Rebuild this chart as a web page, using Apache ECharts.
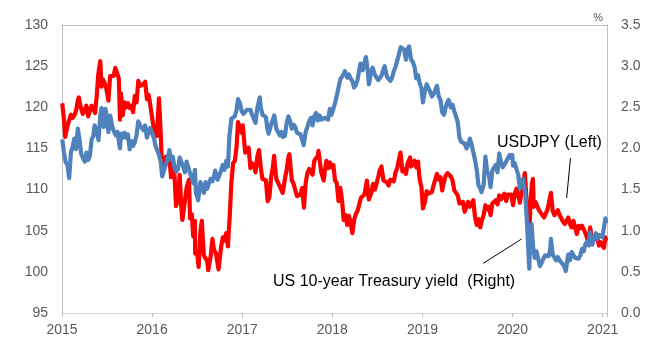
<!DOCTYPE html>
<html>
<head>
<meta charset="utf-8">
<script src="https://cdn.jsdelivr.net/npm/echarts@6/dist/echarts.min.js"></script>
<style>
html,body{margin:0;padding:0;background:#fff;}
#chart{width:669px;height:358px;}
</style>
</head>
<body>
<div id="chart"></div>
<script>
// ---- Data ----
const yearTicks = [2015, 2016, 2017, 2018, 2019, 2020, 2021];
const leftTicks = [95, 100, 105, 110, 115, 120, 125, 130];
const rightTicks = [0.0, 0.5, 1.0, 1.5, 2.0, 2.5, 3.0, 3.5];

// USDJPY (left axis)
const usdjpy = [
['2015-01-02',120.5],['2015-01-09',118.5],['2015-01-14',116.4],['2015-01-23',117.7],['2015-01-30',117.5],['2015-02-06',119.1],['2015-02-13',118.7],['2015-02-20',119.0],['2015-02-27',119.6],['2015-03-06',120.8],['2015-03-10',121.2],['2015-03-18',120.0],['2015-03-26',119.2],['2015-04-03',119.0],['2015-04-10',120.2],['2015-04-17',118.9],['2015-04-24',119.0],['2015-05-01',120.2],['2015-05-08',119.8],['2015-05-15',119.3],['2015-05-22',121.5],['2015-05-28',124.0],['2015-06-05',125.6],['2015-06-10',122.5],['2015-06-15',123.4],['2015-06-22',123.0],['2015-06-29',122.4],['2015-07-08',120.8],['2015-07-15',123.8],['2015-07-22',124.0],['2015-07-29',123.8],['2015-08-05',124.8],['2015-08-12',124.8],['2015-08-19',123.5],['2015-08-24',118.5],['2015-08-28',121.7],['2015-09-04',119.0],['2015-09-11',120.6],['2015-09-18',120.0],['2015-09-25',120.5],['2015-10-02',119.9],['2015-10-09',120.2],['2015-10-16',119.4],['2015-10-23',121.4],['2015-10-30',120.6],['2015-11-06',123.2],['2015-11-13',122.6],['2015-11-20',122.8],['2015-11-27',122.8],['2015-12-04',123.1],['2015-12-11',121.0],['2015-12-18',121.5],['2015-12-24',120.4],['2015-12-31',120.2],
['2016-01-08',117.3],['2016-01-15',117.0],['2016-01-20',116.5],['2016-01-29',121.1],['2016-02-05',116.8],['2016-02-11',112.0],['2016-02-19',112.6],['2016-02-26',114.0],['2016-03-04',114.0],['2016-03-11',113.8],['2016-03-18',111.5],['2016-03-25',113.0],['2016-04-01',111.7],['2016-04-07',108.0],['2016-04-15',108.8],['2016-04-22',111.8],['2016-04-28',108.1],['2016-05-03',106.3],['2016-05-13',108.6],['2016-05-20',110.2],['2016-05-30',111.2],['2016-06-03',106.5],['2016-06-10',107.0],['2016-06-16',104.3],['2016-06-23',106.2],['2016-06-24',102.2],['2016-07-01',102.5],['2016-07-08',100.6],['2016-07-15',104.8],['2016-07-21',106.2],['2016-07-29',102.0],['2016-08-05',101.8],['2016-08-12',101.3],['2016-08-16',100.2],['2016-08-26',101.9],['2016-09-02',104.0],['2016-09-09',102.6],['2016-09-16',102.3],['2016-09-23',101.0],['2016-09-27',100.3],['2016-10-07',103.0],['2016-10-14',104.2],['2016-10-21',103.8],['2016-10-28',104.7],['2016-11-04',103.1],['2016-11-08',105.2],['2016-11-11',106.6],['2016-11-18',110.9],['2016-11-25',113.2],['2016-12-02',113.5],['2016-12-09',115.2],['2016-12-15',118.2],['2016-12-23',117.2],['2016-12-30',116.9],
['2017-01-03',117.8],['2017-01-06',116.9],['2017-01-13',114.5],['2017-01-20',114.6],['2017-01-27',115.1],['2017-02-03',112.6],['2017-02-10',113.2],['2017-02-17',112.9],['2017-02-24',112.1],['2017-03-03',114.0],['2017-03-10',114.8],['2017-03-17',112.7],['2017-03-24',111.3],['2017-03-31',111.4],['2017-04-07',111.1],['2017-04-14',108.6],['2017-04-17',108.5],['2017-04-21',109.1],['2017-04-28',111.5],['2017-05-05',112.7],['2017-05-10',114.1],['2017-05-19',111.3],['2017-05-26',111.3],['2017-06-02',110.4],['2017-06-09',110.3],['2017-06-14',109.6],['2017-06-23',111.3],['2017-06-30',112.4],['2017-07-07',113.9],['2017-07-11',114.3],['2017-07-21',111.1],['2017-07-28',110.7],['2017-08-04',110.7],['2017-08-11',109.2],['2017-08-18',109.2],['2017-08-25',109.4],['2017-09-01',110.2],['2017-09-08',107.8],['2017-09-15',110.8],['2017-09-22',112.0],['2017-09-29',112.5],['2017-10-06',112.6],['2017-10-13',111.8],['2017-10-20',113.5],['2017-10-27',113.7],['2017-11-03',114.1],['2017-11-06',114.7],['2017-11-17',112.1],['2017-11-27',111.1],['2017-12-01',112.2],['2017-12-08',113.5],['2017-12-15',112.6],['2017-12-22',113.3],['2017-12-29',112.7],
['2018-01-05',113.0],['2018-01-08',113.2],['2018-01-12',111.1],['2018-01-19',110.8],['2018-01-26',108.6],['2018-02-02',110.2],['2018-02-09',108.8],['2018-02-16',106.3],['2018-02-23',106.9],['2018-03-02',105.7],['2018-03-09',106.8],['2018-03-16',106.0],['2018-03-23',104.7],['2018-03-30',106.3],['2018-04-06',107.0],['2018-04-13',107.4],['2018-04-20',107.6],['2018-04-27',109.0],['2018-05-04',109.1],['2018-05-11',109.4],['2018-05-21',111.1],['2018-05-29',108.8],['2018-06-08',109.6],['2018-06-15',110.7],['2018-06-22',110.0],['2018-06-29',110.7],['2018-07-06',110.5],['2018-07-13',112.4],['2018-07-19',112.8],['2018-07-27',111.1],['2018-08-03',111.2],['2018-08-10',110.9],['2018-08-17',110.5],['2018-08-24',111.2],['2018-08-31',111.0],['2018-09-07',111.0],['2018-09-14',112.1],['2018-09-21',112.6],['2018-09-28',113.7],['2018-10-04',114.5],['2018-10-12',112.2],['2018-10-19',112.5],['2018-10-26',111.9],['2018-11-02',113.2],['2018-11-12',113.9],['2018-11-16',112.8],['2018-11-23',112.9],['2018-11-30',113.5],['2018-12-07',112.7],['2018-12-14',113.4],['2018-12-21',111.2],['2018-12-28',110.3],
['2019-01-03',107.7],['2019-01-11',108.5],['2019-01-18',109.8],['2019-01-25',109.5],['2019-02-01',109.5],['2019-02-08',109.7],['2019-02-15',110.5],['2019-02-22',110.7],['2019-03-01',111.9],['2019-03-08',111.2],['2019-03-15',111.5],['2019-03-22',109.9],['2019-03-29',110.9],['2019-04-05',111.7],['2019-04-12',112.0],['2019-04-19',111.9],['2019-04-26',111.6],['2019-05-03',111.1],['2019-05-10',109.9],['2019-05-17',110.1],['2019-05-24',109.3],['2019-05-31',108.3],['2019-06-07',108.2],['2019-06-14',108.5],['2019-06-21',107.3],['2019-06-28',107.9],['2019-07-05',108.5],['2019-07-12',107.9],['2019-07-19',107.7],['2019-07-26',108.7],['2019-08-02',106.6],['2019-08-09',105.7],['2019-08-16',106.4],['2019-08-23',105.4],['2019-08-26',105.3],['2019-08-30',106.3],['2019-09-06',106.9],['2019-09-13',108.1],['2019-09-20',107.6],['2019-09-27',107.9],['2019-10-04',106.9],['2019-10-11',108.3],['2019-10-18',108.4],['2019-10-25',108.7],['2019-11-01',108.2],['2019-11-08',109.3],['2019-11-15',108.8],['2019-11-22',108.7],['2019-11-29',109.5],['2019-12-06',108.6],['2019-12-13',109.4],['2019-12-20',109.4],['2019-12-27',109.4],['2019-12-31',108.6],
['2020-01-03',108.1],['2020-01-10',109.5],['2020-01-17',110.1],['2020-01-24',109.3],['2020-01-31',108.4],['2020-02-07',109.8],['2020-02-14',109.8],['2020-02-20',112.0],['2020-02-28',108.1],['2020-03-06',105.4],['2020-03-10',105.0],['2020-03-13',108.0],['2020-03-20',110.8],['2020-03-24',111.3],['2020-03-27',107.9],['2020-04-03',108.5],['2020-04-10',108.5],['2020-04-17',107.5],['2020-04-24',107.5],['2020-05-01',106.9],['2020-05-08',106.6],['2020-05-15',107.1],['2020-05-22',107.6],['2020-05-29',107.8],['2020-06-05',109.6],['2020-06-12',107.4],['2020-06-19',106.9],['2020-06-26',107.2],['2020-07-03',107.5],['2020-07-10',106.9],['2020-07-17',107.0],['2020-07-24',106.1],['2020-07-31',105.8],['2020-08-07',105.9],['2020-08-14',106.6],['2020-08-21',105.8],['2020-08-28',105.4],['2020-09-04',106.2],['2020-09-11',106.1],['2020-09-18',104.6],['2020-09-25',105.6],['2020-10-02',105.3],['2020-10-09',105.6],['2020-10-16',105.4],['2020-10-23',104.7],['2020-10-30',104.6],['2020-11-06',103.4],['2020-11-11',105.4],['2020-11-20',103.8],['2020-11-27',104.1],['2020-12-04',104.2],['2020-12-11',104.0],['2020-12-17',103.2],['2020-12-24',103.6],['2020-12-31',103.2],['2021-01-06',102.9],['2021-01-12',104.2],['2021-01-15',103.8]
];

// US 10-year Treasury yield, % (right axis)
const ust10y = [
['2015-01-02',2.11],['2015-01-09',1.95],['2015-01-16',1.83],['2015-01-23',1.80],['2015-01-30',1.64],['2015-02-06',1.95],['2015-02-13',2.02],['2015-02-20',2.12],['2015-02-27',1.99],['2015-03-06',2.24],['2015-03-13',2.11],['2015-03-20',1.93],['2015-03-27',1.95],['2015-04-03',1.84],['2015-04-10',1.95],['2015-04-17',1.86],['2015-04-24',1.91],['2015-05-01',2.11],['2015-05-08',2.15],['2015-05-13',2.28],['2015-05-22',2.21],['2015-05-29',2.10],['2015-06-05',2.40],['2015-06-10',2.49],['2015-06-19',2.26],['2015-06-26',2.48],['2015-07-02',2.38],['2015-07-08',2.20],['2015-07-15',2.40],['2015-07-24',2.26],['2015-07-31',2.20],['2015-08-07',2.16],['2015-08-14',2.20],['2015-08-21',2.05],['2015-08-24',2.00],['2015-08-28',2.18],['2015-09-04',2.13],['2015-09-11',2.19],['2015-09-18',2.13],['2015-09-25',2.17],['2015-10-02',1.99],['2015-10-09',2.09],['2015-10-16',2.03],['2015-10-23',2.08],['2015-10-30',2.16],['2015-11-06',2.33],['2015-11-13',2.28],['2015-11-20',2.26],['2015-11-27',2.22],['2015-12-04',2.28],['2015-12-11',2.13],['2015-12-18',2.20],['2015-12-24',2.25],['2015-12-31',2.27],
['2016-01-08',2.13],['2016-01-15',2.03],['2016-01-22',2.05],['2016-01-29',1.92],['2016-02-05',1.84],['2016-02-11',1.66],['2016-02-19',1.74],['2016-02-26',1.76],['2016-03-04',1.87],['2016-03-11',1.98],['2016-03-15',1.97],['2016-03-18',1.87],['2016-03-25',1.90],['2016-04-01',1.77],['2016-04-08',1.72],['2016-04-15',1.75],['2016-04-22',1.89],['2016-04-29',1.83],['2016-05-06',1.78],['2016-05-13',1.71],['2016-05-20',1.84],['2016-05-27',1.85],['2016-06-03',1.70],['2016-06-10',1.64],['2016-06-16',1.58],['2016-06-23',1.74],['2016-06-27',1.46],['2016-07-01',1.44],['2016-07-06',1.37],['2016-07-15',1.59],['2016-07-22',1.57],['2016-07-29',1.46],['2016-08-05',1.59],['2016-08-12',1.51],['2016-08-19',1.58],['2016-08-26',1.63],['2016-09-02',1.60],['2016-09-09',1.67],['2016-09-13',1.73],['2016-09-23',1.62],['2016-09-30',1.60],['2016-10-07',1.73],['2016-10-14',1.80],['2016-10-21',1.74],['2016-10-28',1.85],['2016-11-04',1.78],['2016-11-10',2.15],['2016-11-18',2.36],['2016-11-25',2.36],['2016-12-02',2.39],['2016-12-09',2.47],['2016-12-15',2.60],['2016-12-23',2.55],['2016-12-30',2.45],
['2017-01-06',2.42],['2017-01-13',2.40],['2017-01-20',2.47],['2017-01-27',2.49],['2017-02-03',2.47],['2017-02-10',2.41],['2017-02-17',2.42],['2017-02-24',2.31],['2017-03-03',2.49],['2017-03-10',2.58],['2017-03-13',2.62],['2017-03-17',2.50],['2017-03-24',2.41],['2017-03-31',2.39],['2017-04-07',2.38],['2017-04-13',2.24],['2017-04-18',2.18],['2017-04-28',2.29],['2017-05-05',2.35],['2017-05-11',2.40],['2017-05-19',2.24],['2017-05-26',2.25],['2017-06-02',2.16],['2017-06-09',2.20],['2017-06-14',2.14],['2017-06-23',2.15],['2017-06-30',2.31],['2017-07-07',2.39],['2017-07-14',2.33],['2017-07-21',2.24],['2017-07-28',2.29],['2017-08-04',2.26],['2017-08-11',2.19],['2017-08-18',2.19],['2017-08-25',2.17],['2017-09-01',2.16],['2017-09-07',2.04],['2017-09-15',2.20],['2017-09-22',2.26],['2017-09-29',2.33],['2017-10-06',2.37],['2017-10-13',2.28],['2017-10-20',2.39],['2017-10-27',2.43],['2017-11-03',2.34],['2017-11-10',2.40],['2017-11-17',2.35],['2017-11-24',2.34],['2017-12-01',2.37],['2017-12-08',2.38],['2017-12-15',2.35],['2017-12-22',2.48],['2017-12-29',2.41],
['2018-01-05',2.48],['2018-01-12',2.55],['2018-01-19',2.64],['2018-01-26',2.66],['2018-02-02',2.84],['2018-02-09',2.85],['2018-02-15',2.90],['2018-02-21',2.94],['2018-03-02',2.86],['2018-03-09',2.90],['2018-03-16',2.85],['2018-03-23',2.82],['2018-03-30',2.74],['2018-04-06',2.77],['2018-04-13',2.83],['2018-04-20',2.96],['2018-04-25',3.03],['2018-05-04',2.95],['2018-05-11',2.97],['2018-05-17',3.11],['2018-05-25',2.93],['2018-05-29',2.78],['2018-06-08',2.94],['2018-06-13',2.98],['2018-06-22',2.90],['2018-06-29',2.86],['2018-07-06',2.83],['2018-07-13',2.83],['2018-07-20',2.89],['2018-07-27',2.96],['2018-08-01',3.00],['2018-08-10',2.87],['2018-08-17',2.87],['2018-08-24',2.82],['2018-08-31',2.86],['2018-09-07',2.94],['2018-09-14',2.99],['2018-09-21',3.07],['2018-09-28',3.06],['2018-10-05',3.23],['2018-10-09',3.22],['2018-10-19',3.20],['2018-10-26',3.08],['2018-11-02',3.21],['2018-11-08',3.24],['2018-11-16',3.08],['2018-11-23',3.05],['2018-11-30',2.99],['2018-12-07',2.85],['2018-12-14',2.89],['2018-12-21',2.79],['2018-12-28',2.73],
['2019-01-03',2.56],['2019-01-11',2.70],['2019-01-18',2.78],['2019-01-25',2.76],['2019-02-01',2.69],['2019-02-08',2.63],['2019-02-15',2.66],['2019-02-22',2.65],['2019-03-01',2.76],['2019-03-08',2.63],['2019-03-15',2.59],['2019-03-22',2.44],['2019-03-29',2.41],['2019-04-05',2.50],['2019-04-12',2.56],['2019-04-17',2.59],['2019-04-26',2.50],['2019-05-03',2.53],['2019-05-10',2.45],['2019-05-17',2.39],['2019-05-24',2.32],['2019-05-31',2.13],['2019-06-07',2.08],['2019-06-14',2.09],['2019-06-21',2.06],['2019-06-28',2.00],['2019-07-05',2.04],['2019-07-12',2.12],['2019-07-19',2.05],['2019-07-26',2.07],['2019-08-02',1.86],['2019-08-09',1.74],['2019-08-16',1.55],['2019-08-23',1.52],['2019-08-28',1.47],['2019-09-06',1.56],['2019-09-13',1.90],['2019-09-20',1.72],['2019-09-27',1.68],['2019-10-04',1.53],['2019-10-11',1.73],['2019-10-18',1.75],['2019-10-25',1.80],['2019-11-01',1.71],['2019-11-08',1.94],['2019-11-15',1.83],['2019-11-22',1.77],['2019-11-29',1.78],['2019-12-06',1.84],['2019-12-13',1.82],['2019-12-20',1.92],['2019-12-27',1.88],['2019-12-31',1.92],
['2020-01-03',1.79],['2020-01-10',1.82],['2020-01-17',1.84],['2020-01-24',1.68],['2020-01-31',1.51],['2020-02-07',1.58],['2020-02-12',1.63],['2020-02-21',1.47],['2020-02-28',1.13],['2020-03-06',0.71],['2020-03-09',0.54],['2020-03-13',0.96],['2020-03-18',1.08],['2020-03-24',0.82],['2020-03-31',0.67],['2020-04-07',0.75],['2020-04-14',0.76],['2020-04-21',0.57],['2020-04-28',0.61],['2020-05-05',0.66],['2020-05-12',0.70],['2020-05-19',0.70],['2020-05-26',0.69],['2020-06-02',0.77],['2020-06-05',0.90],['2020-06-12',0.71],['2020-06-19',0.70],['2020-06-26',0.64],['2020-07-03',0.68],['2020-07-10',0.64],['2020-07-17',0.63],['2020-07-24',0.59],['2020-07-31',0.55],['2020-08-04',0.51],['2020-08-14',0.71],['2020-08-21',0.64],['2020-08-28',0.74],['2020-09-04',0.72],['2020-09-11',0.67],['2020-09-18',0.69],['2020-09-25',0.66],['2020-10-02',0.70],['2020-10-09',0.78],['2020-10-16',0.75],['2020-10-23',0.84],['2020-10-30',0.87],['2020-11-06',0.82],['2020-11-11',0.98],['2020-11-20',0.83],['2020-11-27',0.84],['2020-12-04',0.97],['2020-12-11',0.90],['2020-12-18',0.95],['2020-12-24',0.94],['2020-12-31',0.92],['2021-01-06',1.04],['2021-01-12',1.15],['2021-01-15',1.09]
];

const usdjpyLabel = 'USDJPY (Left)';
const ustLabel = 'US 10-year Treasury yield  (Right)';

// ---- Helpers ----
function toYear(s){
  const p = s.split('-').map(Number);
  const y = p[0];
  const start = Date.UTC(y,0,1), end = Date.UTC(y+1,0,1);
  return y + (Date.UTC(y,p[1]-1,p[2]) - start) / (end - start);
}
const toPts = arr => arr.map(d => [toYear(d[0]), d[1]]);

const FONT = "'Liberation Sans', Arial, sans-serif";
const chart = echarts.init(document.getElementById('chart'), null, {renderer:'canvas'});

const xMin = yearTicks[0];
const xMax = yearTicks[yearTicks.length-1] + 0.048;

chart.setOption({
  animation: false,
  backgroundColor: '#ffffff',
  grid: {left: 62, right: 62, top: 25, bottom: 45, containLabel: false},
  xAxis: [{
    type: 'value', min: xMin, max: xMax, interval: 1,
    axisLine: {show: true, lineStyle: {color: '#c8c8c8', type: 'dotted', width: 1}},
    axisTick: {show: true, length: 4, lineStyle: {color: '#bfbfbf'}},
    splitLine: {show: false},
    axisLabel: {
      margin: 10, color: '#595959', fontSize: 14, fontFamily: FONT,
      formatter: v => (yearTicks.indexOf(Math.round(v)) >= 0 && Math.abs(v - Math.round(v)) < 1e-6) ? String(Math.round(v)) : ''
    }
  },{
    type: 'value', position: 'top', min: xMin, max: xMax,
    axisLine: {show: true, onZero: false, lineStyle: {color: '#bfbfbf', width: 1}},
    axisTick: {show: false}, axisLabel: {show: false}, splitLine: {show: false}
  }],
  yAxis: [{
    type: 'value', position: 'left',
    min: leftTicks[0], max: leftTicks[leftTicks.length-1], interval: 5,
    axisLine: {show: true, lineStyle: {color: '#bfbfbf', width: 1}},
    axisTick: {show: false}, splitLine: {show: false},
    axisLabel: {margin: 14, color: '#595959', fontSize: 14, fontFamily: FONT}
  },{
    type: 'value', position: 'right',
    min: rightTicks[0], max: rightTicks[rightTicks.length-1], interval: 0.5,
    axisLine: {show: true, lineStyle: {color: '#bfbfbf', width: 1}},
    axisTick: {show: false}, splitLine: {show: false},
    axisLabel: {margin: 14, color: '#595959', fontSize: 14, fontFamily: FONT, formatter: v => v.toFixed(1)}
  }],
  series: [{
    name: usdjpyLabel, type: 'line', xAxisIndex: 0, yAxisIndex: 0,
    data: toPts(usdjpy), showSymbol: false, symbol: 'none',
    lineStyle: {color: '#ff0000', width: 4.2, join: 'round'}, itemStyle: {color: '#ff0000'},
    z: 2,
    markLine: {
      silent: true, symbol: 'none', animation: false,
      lineStyle: {color: '#000000', width: 1, type: 'solid'},
      label: {show: false},
      data: [
        [{coord: [2020.643, 113.84]}, {coord: [2020.600, 108.98]}],
        [{coord: [2019.675, 101.04]}, {coord: [2020.101, 104.0]}]
      ]
    }
  },{
    name: ustLabel, type: 'line', xAxisIndex: 0, yAxisIndex: 1,
    data: toPts(ust10y), showSymbol: false, symbol: 'none',
    lineStyle: {color: '#4f81bd', width: 4.2, join: 'round'}, itemStyle: {color: '#4f81bd'},
    z: 3
  }],
  graphic: [
    {type: 'text', left: 497, top: 135, style: {text: usdjpyLabel, font: "16px " + FONT, fill: '#000000'}},
    {type: 'text', left: 273, top: 274, style: {text: ustLabel, font: "16px " + FONT, fill: '#000000'}},
    {type: 'text', right: 66, top: 12, style: {text: '%', font: "11px " + FONT, fill: '#595959'}}
  ]
});
</script>
</body>
</html>
